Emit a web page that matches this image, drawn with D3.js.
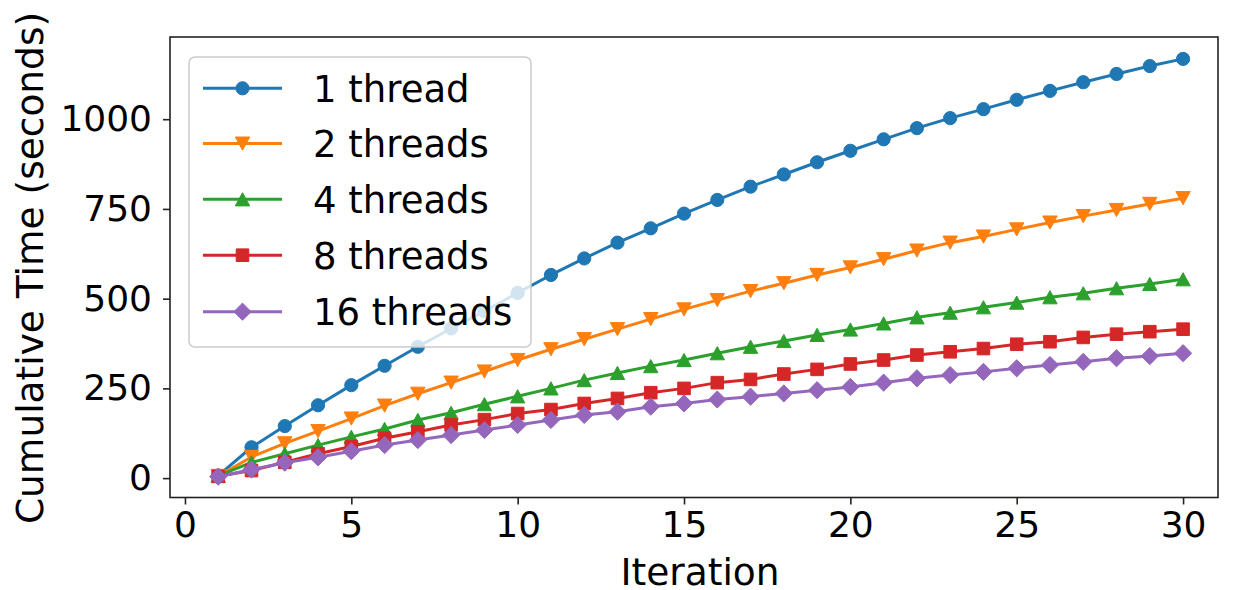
<!DOCTYPE html>
<html>
<head>
<meta charset="utf-8">
<script src="https://cdn.jsdelivr.net/npm/d3@7"></script>
<style>
  html, body { margin: 0; padding: 0; background: #fff; }
  svg { display: block; }
  text { font-family: "DejaVu Sans", sans-serif; fill: #000; }
</style>
</head>
<body>
<svg id="chart" width="1235" height="590"></svg>
<script>
// ---- data ----
const iterations = d3.range(1, 31);
const seriesNames = ["1 thread", "2 threads", "4 threads", "8 threads", "16 threads"];
const oneThread = [7, 86, 145, 203, 259, 313, 366, 417, 465, 516, 566, 612, 656, 696, 737, 775, 812, 846, 880, 912, 944, 975, 1003, 1028, 1054, 1079, 1103, 1126, 1148, 1168];
const twoThreads = [6, 59, 97, 131, 166, 202, 235, 266, 297, 329, 359, 387, 415, 443, 470, 496, 521, 543, 566, 587, 610, 634, 656, 673, 693, 712, 730, 747, 764, 780];
const fourThreads = [6, 44, 68, 92, 115, 137, 162, 182, 206, 228, 250, 273, 293, 312, 329, 348, 366, 382, 399, 414, 431, 448, 461, 476, 489, 504, 515, 529, 541, 554];
const eightThreads = [5, 21, 44, 68, 88, 111, 129, 148, 163, 180, 191, 208, 222, 238, 250, 266, 275, 290, 303, 318, 329, 343, 352, 361, 373, 380, 392, 401, 408, 415];
const sixteenThreads = [4, 24, 43, 58, 75, 92, 106, 120, 134, 148, 162, 176, 185, 199, 208, 219, 227, 236, 245, 254, 266, 278, 287, 296, 306, 315, 324, 334, 340, 348];
const xTicks = [0, 5, 10, 15, 20, 25, 30];
const yTicks = [0, 250, 500, 750, 1000];
const xLabel = "Iteration";
const yLabel = "Cumulative Time (seconds)";

const colors = ["#1f77b4", "#ff7f0e", "#2ca02c", "#d62728", "#9467bd"];
const markers = ["circle", "triDown", "triUp", "square", "diamond"];
const allSeries = [oneThread, twoThreads, fourThreads, eightThreads, sixteenThreads];

// ---- layout ----
const plot = { left: 170, right: 1218, top: 37, bottom: 497.5 };
const TICK_FONT = 36;
const LABEL_FONT = 37.5;
const LEGEND_FONT = 37;

const svg = d3.select("#chart");
svg.append("rect").attr("width", 1235).attr("height", 590).attr("fill", "#fff");

const x = d3.scaleLinear().domain([-0.45, 31.05]).range([plot.left, plot.right]);
const y = d3.scaleLinear().domain([-54, 1229]).range([plot.bottom, plot.top]);

function markerPath(type) {
  const p = d3.path();
  if (type === "circle") {
    p.arc(0, 0, 6.6, 0, 2 * Math.PI);
  } else if (type === "triDown") {
    p.moveTo(-7.2, -6.6); p.lineTo(7.2, -6.6); p.lineTo(0, 6.6); p.closePath();
  } else if (type === "triUp") {
    p.moveTo(-7.2, 6.6); p.lineTo(7.2, 6.6); p.lineTo(0, -6.6); p.closePath();
  } else if (type === "square") {
    p.rect(-6.3, -6.3, 12.6, 12.6);
  } else if (type === "diamond") {
    p.moveTo(0, -8.6); p.lineTo(8.6, 0); p.lineTo(0, 8.6); p.lineTo(-8.6, 0); p.closePath();
  }
  return p.toString();
}

// ---- series ----
const gData = svg.append("g");
const line = d3.line().x((d, i) => x(iterations[i])).y(d => y(d));
allSeries.forEach((vals, si) => {
  const g = gData.append("g");
  g.append("path").datum(vals)
    .attr("d", line)
    .attr("fill", "none")
    .attr("stroke", colors[si])
    .attr("stroke-width", 3)
    .attr("stroke-linejoin", "round");
  g.selectAll("path.m").data(vals).enter().append("path")
    .attr("class", "m")
    .attr("d", markerPath(markers[si]))
    .attr("transform", (d, i) => `translate(${x(iterations[i])},${y(d)})`)
    .attr("fill", colors[si])
    .attr("stroke", colors[si])
    .attr("stroke-width", 1);
});

// ---- axes ----
const xAxis = d3.axisBottom(x).tickValues(xTicks).tickSize(7).tickPadding(7).tickFormat(d3.format("d"));
const yAxis = d3.axisLeft(y).tickValues(yTicks).tickSize(7).tickPadding(11).tickFormat(d3.format("d"));

const gx = svg.append("g").attr("transform", `translate(0,${plot.bottom})`).call(xAxis);
const gy = svg.append("g").attr("transform", `translate(${plot.left},0)`).call(yAxis);
[gx, gy].forEach(g => {
  g.select(".domain").remove();
  g.selectAll(".tick line").attr("stroke", "#222").attr("stroke-width", 1.6);
  g.selectAll(".tick text").attr("font-size", TICK_FONT).attr("font-family", "DejaVu Sans").attr("fill", "#000");
});

// frame
svg.append("rect")
  .attr("x", plot.left).attr("y", plot.top)
  .attr("width", plot.right - plot.left).attr("height", plot.bottom - plot.top)
  .attr("fill", "none").attr("stroke", "#222").attr("stroke-width", 1.6);

// axis labels
svg.append("text")
  .attr("x", 700).attr("y", 585)
  .attr("text-anchor", "middle")
  .attr("font-size", LABEL_FONT)
  .text(xLabel);
svg.append("text")
  .attr("transform", `translate(43,268) rotate(-90)`)
  .attr("text-anchor", "middle")
  .attr("font-size", LABEL_FONT)
  .text(yLabel);

// ---- legend ----
const legend = svg.append("g");
legend.append("rect")
  .attr("x", 189).attr("y", 57).attr("width", 342).attr("height", 290)
  .attr("rx", 6).attr("ry", 6)
  .attr("fill", "#fff").attr("fill-opacity", 0.8)
  .attr("stroke", "#cccccc").attr("stroke-width", 1.5);
const rowY = [88.3, 143.6, 199.3, 255.2, 311.7];
seriesNames.forEach((name, si) => {
  const g = legend.append("g").attr("transform", `translate(0,${rowY[si]})`);
  g.append("line").attr("x1", 203).attr("x2", 282).attr("y1", 0).attr("y2", 0)
    .attr("stroke", colors[si]).attr("stroke-width", 3);
  g.append("path").attr("d", markerPath(markers[si]))
    .attr("transform", "translate(242.5,0)")
    .attr("fill", colors[si]).attr("stroke", colors[si]).attr("stroke-width", 1);
  g.append("text").attr("x", 313).attr("y", 0).attr("dy", "0.36em")
    .attr("font-size", LEGEND_FONT).text(name);
});
</script>
</body>
</html>
